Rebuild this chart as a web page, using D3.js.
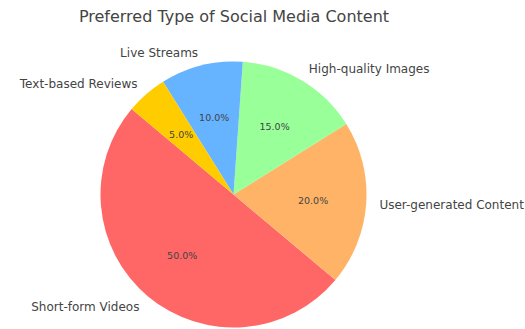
<!DOCTYPE html>
<html>
<head>
<meta charset="utf-8">
<script src="https://cdn.jsdelivr.net/npm/d3@7"></script>
<style>
  body { margin: 0; background: #fff; }
  svg { display: block; font-family: "DejaVu Sans", sans-serif; }
</style>
</head>
<body>
<div id="chart"></div>
<script>
// data
const categories = ["Short-form Videos", "User-generated Content", "High-quality Images", "Live Streams", "Text-based Reviews"]
const values = [50, 20, 15, 10, 5]
const colors = ["#ff6666", "#ffb366", "#99ff99", "#66b3ff", "#ffcc00"]

const data = categories.map((c, i) => ({ label: c, value: values[i], color: colors[i] }))

const dimensions = {
    width: 525,
    height: 329,
    cx: 233.5,
    cy: 194.5,
    radius: 133,
}

const wrapper = d3.select("#chart")
    .append("svg")
    .attr("width", dimensions.width)
    .attr("height", dimensions.height)

wrapper.append("text")
    .attr("x", 234)
    .attr("y", 22)
    .attr("text-anchor", "middle")
    .attr("fill", "#444")
    .style("font-size", "16px")
    .text("Preferred Type of Social Media Content")

const bounds = wrapper.append("g")
    .attr("transform", `translate(${dimensions.cx}, ${dimensions.cy})`)

// matplotlib startangle 140, counterclockwise -> d3 angles
const start = (90 - 140) * Math.PI / 180
const pie = d3.pie()
    .sort(null)
    .value(d => d.value)
    .startAngle(start)
    .endAngle(start - 2 * Math.PI)

const arcs = pie(data)
const total = d3.sum(values)

const arc = d3.arc().innerRadius(0).outerRadius(dimensions.radius)
const pctArc = d3.arc().innerRadius(dimensions.radius * 0.6).outerRadius(dimensions.radius * 0.6)
const labelArc = d3.arc().innerRadius(dimensions.radius * 1.1).outerRadius(dimensions.radius * 1.1)

bounds.selectAll("path")
    .data(arcs)
    .join("path")
    .attr("d", arc)
    .attr("fill", d => d.data.color)

bounds.selectAll(".pct")
    .data(arcs)
    .join("text")
    .attr("class", "pct")
    .attr("transform", d => `translate(${pctArc.centroid(d)})`)
    .attr("text-anchor", "middle")
    .attr("dominant-baseline", "central")
    .attr("fill", "#444")
    .style("font-size", "9.5px")
    .text(d => (d.data.value / total * 100).toFixed(1) + "%")

bounds.selectAll(".lbl")
    .data(arcs)
    .join("text")
    .attr("class", "lbl")
    .attr("transform", d => `translate(${labelArc.centroid(d)})`)
    .attr("text-anchor", d => labelArc.centroid(d)[0] < 0 ? "end" : "start")
    .attr("dominant-baseline", "central")
    .attr("fill", "#444")
    .style("font-size", "12px")
    .text(d => d.data.label)
</script>
</body>
</html>
